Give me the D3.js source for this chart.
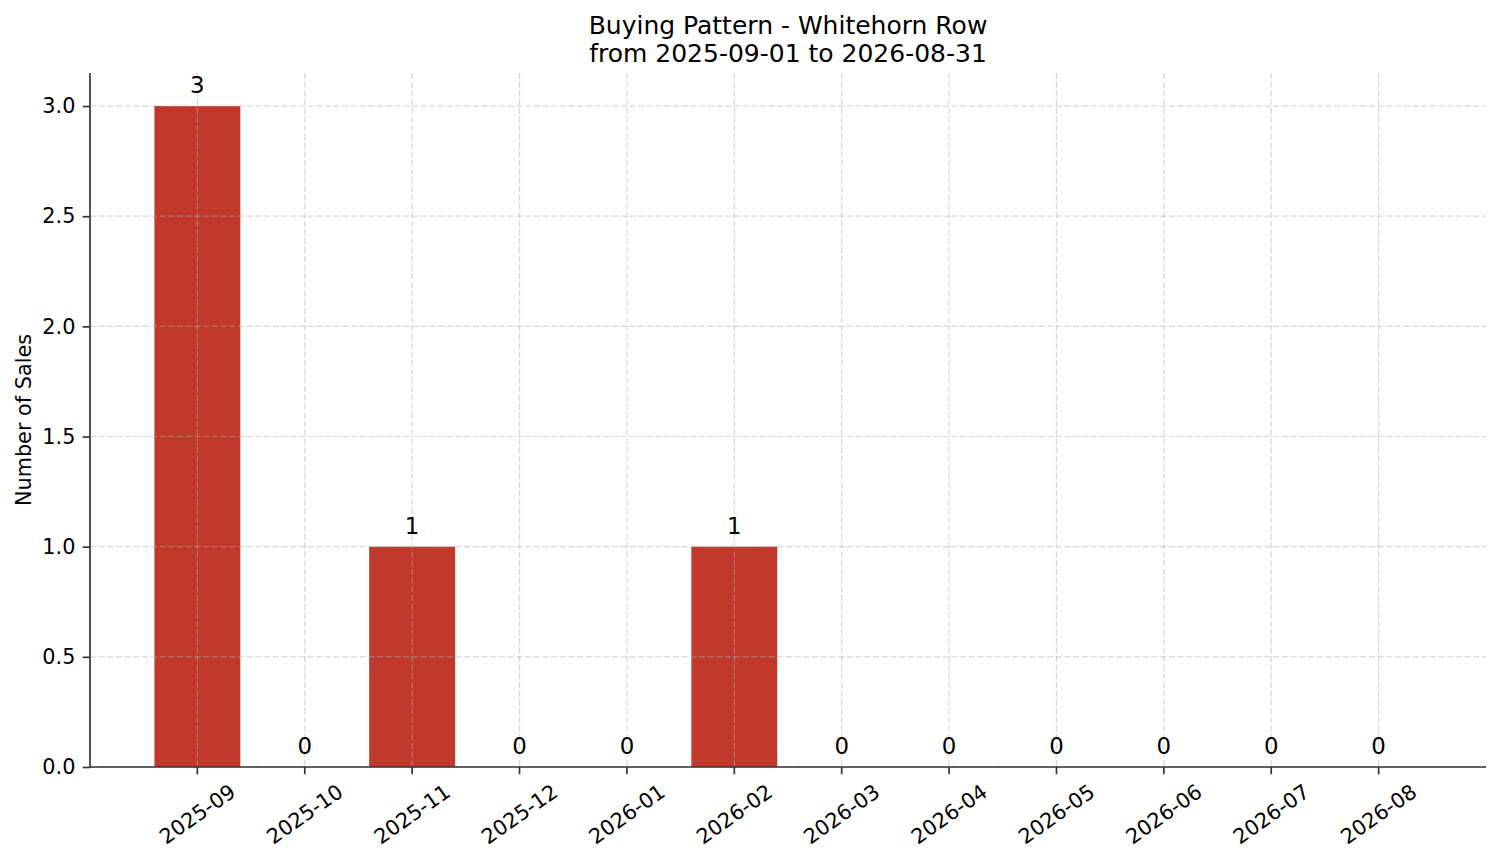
<!DOCTYPE html>
<html lang="en">
<head>
    <meta charset="UTF-8">
    <title>Buying Pattern - Whitehorn Row</title>
    <script src="https://d3js.org/d3.v7.min.js"></script>
    <style>
        body { margin: 0; background: #fff; }
        text { font-family: "DejaVu Sans", sans-serif; fill: #000; }
    </style>
</head>
<body>
    <script>
        var months = ["2025-09", "2025-10", "2025-11", "2025-12", "2026-01", "2026-02",
                      "2026-03", "2026-04", "2026-05", "2026-06", "2026-07", "2026-08"];
        var sales = [3, 0, 1, 0, 0, 1, 0, 0, 0, 0, 0, 0];
        var yTicks = [0, 0.5, 1.0, 1.5, 2.0, 2.5, 3.0];
        var titleLines = ["Buying Pattern - Whitehorn Row", "from 2025-09-01 to 2026-08-31"];

        var w = 1501;
        var h = 863;
        // plot area edges (note: "top" is reserved on window, so use plot* names)
        var plotLeft = 90, plotRight = 1486, plotTop = 73, plotBottom = 767;

        var svg = d3.select("body")
                .append("svg")
                .attr("width", w)
                .attr("height", h);

        // band scale: inner padding gives 0.8 wide bars, outer padding matches the 5% margin
        var xScale = d3.scaleBand()
                .domain(months)
                .range([plotLeft, plotRight])
                .paddingInner(0.2)
                .paddingOuter(0.6);

        var yScale = d3.scaleLinear()
                .domain([0, d3.max(sales) * 1.05])
                .range([plotBottom, plotTop]);

        // bars
        svg.selectAll("rect.bar")
            .data(sales)
            .enter()
            .append("rect")
            .attr("class", "bar")
            .attr("x", function(d, i) { return xScale(months[i]); })
            .attr("y", function(d) { return yScale(d); })
            .attr("width", xScale.bandwidth())
            .attr("height", function(d) { return plotBottom - yScale(d); })
            .attr("fill", "#c0392b");

        // grid, drawn over the bars
        var grid = svg.append("g")
            .attr("stroke", "#b0b0b0")
            .attr("stroke-opacity", 0.5)
            .attr("stroke-width", 1.2)
            .attr("stroke-dasharray", "6,2.7");

        grid.selectAll("line.h")
            .data(yTicks)
            .enter()
            .append("line")
            .attr("x1", plotLeft).attr("x2", plotRight)
            .attr("y1", function(d) { return yScale(d); })
            .attr("y2", function(d) { return yScale(d); });

        grid.selectAll("line.v")
            .data(months)
            .enter()
            .append("line")
            .attr("x1", function(d) { return xScale(d) + xScale.bandwidth() / 2; })
            .attr("x2", function(d) { return xScale(d) + xScale.bandwidth() / 2; })
            .attr("y1", plotTop).attr("y2", plotBottom);

        // value labels
        svg.selectAll("text.val")
            .data(sales)
            .enter()
            .append("text")
            .attr("class", "val")
            .text(function(d) { return d; })
            .attr("x", function(d, i) { return xScale(months[i]) + xScale.bandwidth() / 2; })
            .attr("y", function(d) { return yScale(d) - 13; })
            .attr("text-anchor", "middle")
            .attr("font-size", "22.9px");

        // y axis
        var yAxis = d3.axisLeft(yScale)
            .tickValues(yTicks)
            .tickFormat(d3.format(".1f"))
            .tickSize(7.3)
            .tickPadding(7.3);

        var yg = svg.append("g")
            .attr("transform", "translate(" + plotLeft + ",0)")
            .call(yAxis);
        yg.select(".domain").remove();
        yg.selectAll(".tick line").attr("stroke", "#333").attr("stroke-width", 1.67);
        yg.selectAll(".tick text")
            .attr("font-size", "20.8px")
            .attr("font-family", "DejaVu Sans")
            .attr("fill", "#000");

        // x axis
        var xAxis = d3.axisBottom(xScale)
            .tickSize(7.3)
            .tickFormat("");

        var xg = svg.append("g")
            .attr("transform", "translate(0," + plotBottom + ")")
            .call(xAxis);
        xg.select(".domain").remove();
        xg.selectAll(".tick line").attr("stroke", "#333").attr("stroke-width", 1.67);

        svg.selectAll("text.xlab")
            .data(months)
            .enter()
            .append("text")
            .attr("class", "xlab")
            .text(function(d) { return d; })
            .attr("text-anchor", "middle")
            .attr("dy", "0.35em")
            .attr("font-size", "20.8px")
            .attr("transform", function(d) {
                var cx = xScale(d) + xScale.bandwidth() / 2;
                return "translate(" + cx + "," + 814 + ") rotate(-35)";
            });

        // spines
        svg.append("line")
            .attr("x1", plotLeft).attr("x2", plotLeft)
            .attr("y1", plotTop).attr("y2", plotBottom + 0.8)
            .attr("stroke", "#333").attr("stroke-width", 1.67);
        svg.append("line")
            .attr("x1", plotLeft - 0.8).attr("x2", plotRight)
            .attr("y1", plotBottom).attr("y2", plotBottom)
            .attr("stroke", "#333").attr("stroke-width", 1.67);

        // y label
        svg.append("text")
            .text("Number of Sales")
            .attr("text-anchor", "middle")
            .attr("font-size", "20.8px")
            .attr("transform", "translate(31," + ((plotTop + plotBottom) / 2) + ") rotate(-90)");

        // title
        svg.selectAll("text.title")
            .data(titleLines)
            .enter()
            .append("text")
            .attr("class", "title")
            .text(function(d) { return d; })
            .attr("x", (plotLeft + plotRight) / 2)
            .attr("y", function(d, i) { return 34 + i * 27.5; })
            .attr("text-anchor", "middle")
            .attr("font-size", "25px");
    </script>
</body>
</html>
